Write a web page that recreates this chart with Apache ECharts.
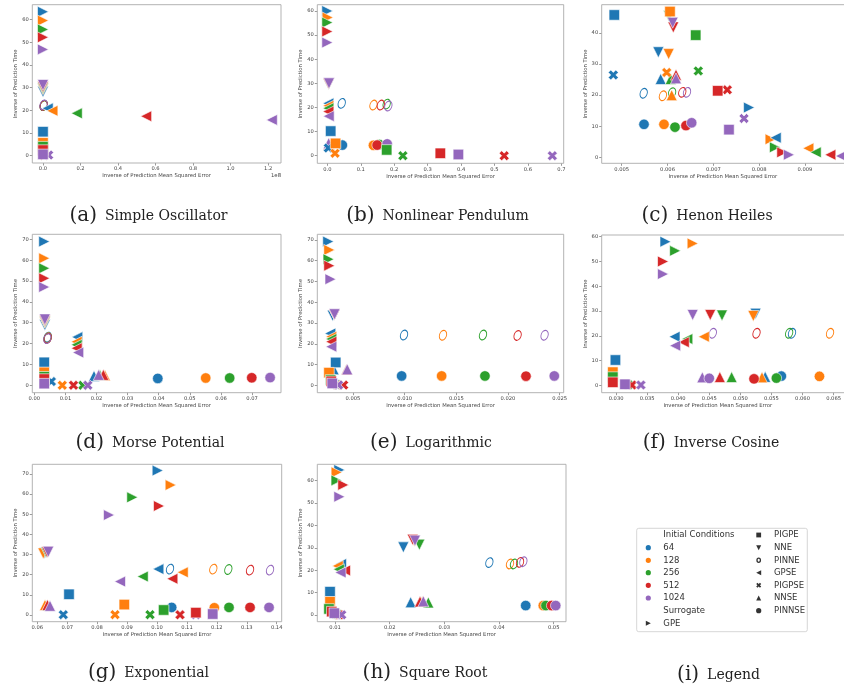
<!DOCTYPE html>
<html><head><meta charset="utf-8">
<script src="https://cdn.jsdelivr.net/npm/echarts@6/dist/echarts.min.js"></script>
<style>html,body{margin:0;padding:0;background:#fff}#c{width:844px;height:690px}</style>
</head><body><div id="c"></div>
<script>
// ---- categories ----
const icLabels = ['64','128','256','512','1024'];
const icColors = ['#1f77b4','#ff7f0e','#2ca02c','#d62728','#9467bd'];
const models = ['GPE','NNE','PINNE','GPSE','NNSE','PINNSE','PIGPSE','PIGPE'];
const legendModels = ['PIGPE','NNE','PINNE','GPSE','PIGPSE','NNSE','PINNSE'];

// ---- (a) Simple Oscillator (x in 1e8) ----
const a_GPE = [[0,63.5],[0,59.6],[0,55.7],[0,52.2],[0,46.9]];
const a_NNE = [[0,28.2],[0,29.3],[0,29.8],[0,30.4],[0,31.2]];
const a_PINNE = [[0.004,22.3],[0.004,22.2],[0.004,22.1],[0.004,22.2],[0.003,22.4]];
const a_GPSE = [[0.025,20.9],[0.05,19.8],[0.18,18.7],[0.55,17.4],[1.22,15.8]];
const a_NNSE = [[0.001,4.8],[0.001,4.6],[0.001,4.5],[0.002,4.4],[0.002,4.3]];
const a_PINNSE = [[0.001,4.2],[0.002,4.1],[0.002,4.1],[0.002,4.0],[0.003,4.0]];
const a_PIGPSE = [[0.002,0.4],[0.003,0.3],[0.004,0.2],[0.005,0.2],[0.03,0.3]];
const a_PIGPE = [[0,10.6],[0,5.7],[0,4.0],[0,2.5],[0,0.6]];
const a_xTicks = [0,0.2,0.4,0.6,0.8,1.0,1.2];
const a_yTicks = [0,10,20,30,40,50,60];

// ---- (b) Nonlinear Pendulum ----
const b_GPE = [[0,60],[0.001,57.3],[0,55.2],[0,51.5],[0,46.9]];
const b_NNE = [[0.004,29.6],[0.004,29.7],[0.004,29.8],[0.004,29.9],[0.005,30]];
const b_PINNE = [[0.043,21.7],[0.138,21.0],[0.1775,21.4],[0.16,21.0],[0.1825,20.6]];
const b_GPSE = [[0.003,21.7],[0.003,20.7],[0.003,19.7],[0.003,18.3],[0.004,16.4]];
const b_NNSE = [[0.004,4.6],[0.005,4.8],[0.005,4.9],[0.005,5.0],[0.004,5.2]];
const b_PINNSE = [[0.045,4.4],[0.138,4.3],[0.156,4.6],[0.149,4.4],[0.179,4.9]];
const b_PIGPSE = [[0.003,3.2],[0.023,1.0],[0.226,0],[0.529,0],[0.673,0]];
const b_PIGPE = [[0.010,10.2],[0.0246,5.1],[0.1775,2.4],[0.338,1.0],[0.392,0.5]];
const b_xTicks = [0,0.1,0.2,0.3,0.4,0.5,0.6,0.7];
const b_yTicks = [0,10,20,30,40,50,60];

// ---- (c) Henon Heiles ----
const c_GPE = [[0.00778,16],[0.00825,5.8],[0.008345,3.2],[0.008505,1.6],[0.00865,0.8]];
const c_NNE = [[0.0058,33.8],[0.006025,33.2],[0.00603,45.5],[0.006127,41.8],[0.006113,43.3]];
const c_PINNE = [[0.00548,20.6],[0.0059,19.8],[0.0061,20.8],[0.006322,20.9],[0.006425,20.9]];
const c_GPSE = [[0.00836,6.3],[0.009072,2.9],[0.009233,1.6],[0.009552,0.8],[0.009785,0.4]];
const c_NNSE = [[0.005851,25.2],[0.006091,20.0],[0.006069,25.2],[0.006185,26.6],[0.006185,25.4]];
const c_PINNSE = [[0.005487,10.6],[0.005923,10.6],[0.006163,9.7],[0.006403,10.2],[0.006527,11.1]];
const c_PIGPSE = [[0.004817,26.5],[0.005982,27.3],[0.006671,27.8],[0.007304,21.7],[0.007669,12.5]];
const c_PIGPE = [[0.004839,45.8],[0.006054,46.9],[0.006615,39.3],[0.007095,21.4],[0.007341,8.9]];
const c_xTicks = [0.005,0.006,0.007,0.008,0.009];
const c_yTicks = [0,10,20,30,40];

// ---- (d) Morse Potential ----
const d_GPE = [[0.0032,68.9],[0.0032,60.9],[0.0032,56.1],[0.0032,51.3],[0.0032,47.1]];
const d_NNE = [[0.0034,28.9],[0.0034,30],[0.0034,30.5],[0.0034,31],[0.0034,31.6]];
const d_PINNE = [[0.0043,23.1],[0.0043,22.8],[0.0043,22.6],[0.0043,22.5],[0.0042,22.4]];
const d_GPSE = [[0.0138,23.1],[0.0136,20.9],[0.0136,19.4],[0.0136,17.8],[0.0141,15.7]];
const d_NNSE = [[0.0192,4.5],[0.0227,4.8],[0.0211,4.9],[0.0222,5.0],[0.0207,5.0]];
const d_PINNSE = [[0.0397,3.3],[0.0551,3.5],[0.0628,3.5],[0.0699,3.6],[0.0758,3.7]];
const d_PIGPSE = [[0.0055,1.8],[0.009,0],[0.0156,0],[0.0126,0],[0.0172,0]];
const d_PIGPE = [[0.0032,11.0],[0.0032,6.2],[0.0032,4.1],[0.0032,3.0],[0.0032,0.8]];
const d_xTicks = [0,0.01,0.02,0.03,0.04,0.05,0.06,0.07];
const d_yTicks = [0,10,20,30,40,50,60,70];

// ---- (e) Logarithmic ----
const e_GPE = [[0.00261,69.2],[0.00271,65.2],[0.00264,60.7],[0.00271,57.6],[0.00283,51.1]];
const e_NNE = [[0.00304,33.5],[0.0032,34.1],[0.0032,34.0],[0.0032,34.0],[0.00322,34.2]];
const e_PINNE = [[0.00994,24.2],[0.01371,24.1],[0.01758,24.2],[0.02093,24.0],[0.02354,24.1]];
const e_GPSE = [[0.0028,25.0],[0.0029,23.4],[0.0029,22.3],[0.0029,21.0],[0.0029,18.6]];
const e_NNSE = [[0.00313,7.7],[0.0044,7.6],[0.0044,7.6],[0.0044,7.6],[0.00445,7.7]];
const e_PINNSE = [[0.00971,4.5],[0.01358,4.5],[0.01777,4.5],[0.02174,4.4],[0.02448,4.5]];
const e_PIGPSE = [[0.0034,0.4],[0.0035,0.3],[0.0036,0.2],[0.0041,0.1],[0.0036,0.2]];
const e_PIGPE = [[0.00333,11.0],[0.00268,6.1],[0.00284,2.6],[0.0029,1.9],[0.003,0.9]];
const e_xTicks = [0.005,0.010,0.015,0.020,0.025];
const e_yTicks = [0,10,20,30,40,50,60,70];

// ---- (f) Inverse Cosine ----
const f_GPE = [[0.03796,58.0],[0.04233,57.3],[0.03951,54.3],[0.03756,50.0],[0.03756,44.9]];
const f_NNE = [[0.05245,28.9],[0.05209,28.0],[0.04705,28.2],[0.04516,28.4],[0.04233,28.4]];
const f_PINNE = [[0.05831,21.0],[0.06443,21.0],[0.05785,21.0],[0.0526,21.0],[0.04557,21.0]];
const f_GPSE = [[0.0394,19.6],[0.04412,19.6],[0.04146,18.7],[0.04089,17.4],[0.0395,16.0]];
const f_NNSE = [[0.0540,3.4],[0.05348,3.2],[0.0486,3.3],[0.0467,3.3],[0.04388,3.2]];
const f_PINNSE = [[0.0566,3.7],[0.06273,3.6],[0.0558,2.9],[0.0522,2.6],[0.0450,2.8]];
const f_PIGPSE = [[0.0315,0.5],[0.0318,0.3],[0.032,0.2],[0.03256,0.1],[0.034,0.1]];
const f_PIGPE = [[0.0299,10.2],[0.02948,5.3],[0.02948,3.3],[0.02948,1.2],[0.03143,0.4]];
const f_xTicks = [0.030,0.035,0.040,0.045,0.050,0.055,0.060,0.065];
const f_yTicks = [0,10,20,30,40,50,60];

// ---- (g) Exponential ----
const g_GPE = [[0.10024,71.7],[0.10458,64.5],[0.09175,58.4],[0.10068,54.1],[0.08396,49.6]];
const g_NNE = [[0.0625,30.8],[0.062,30.6],[0.063,31.0],[0.0633,31.1],[0.06368,31.4]];
const g_PINNE = [[0.10435,22.8],[0.11882,22.8],[0.12384,22.6],[0.1311,22.3],[0.13778,22.3]];
const g_GPSE = [[0.10044,22.8],[0.1086,21.2],[0.09523,19.1],[0.10512,18.0],[0.08764,16.6]];
const g_NNSE = [[0.0632,4.8],[0.06257,5.0],[0.0635,4.8],[0.0634,5.0],[0.06424,4.6]];
const g_PINNSE = [[0.10491,3.8],[0.11916,3.6],[0.12407,3.8],[0.1311,3.8],[0.13745,3.8]];
const g_PIGPSE = [[0.06869,0.2],[0.08597,0.2],[0.09767,0.2],[0.1077,0.1],[0.113,0.1]];
const g_PIGPE = [[0.0706,10.3],[0.08908,5.2],[0.10222,2.5],[0.1130,1.2],[0.11862,0.5]];
const g_xTicks = [0.06,0.07,0.08,0.09,0.10,0.11,0.12,0.13,0.14];
const g_yTicks = [0,10,20,30,40,50,60,70];

// ---- (h) Square Root ----
const h_GPE = [[0.0108,64.8],[0.0103,63.7],[0.01028,60.1],[0.01152,58.1],[0.0108,52.8]];
const h_NNE = [[0.0225,30.2],[0.0245,33.0],[0.02543,31.4],[0.02421,33.6],[0.02463,33.2]];
const h_PINNE = [[0.03823,23.4],[0.04201,22.8],[0.04274,22.8],[0.04384,23.5],[0.04445,23.8]];
const h_GPSE = [[0.0111,22.8],[0.0105,21.9],[0.0107,20.4],[0.01183,19.9],[0.011,19.0]];
const h_NNSE = [[0.02384,5.7],[0.02597,6.0],[0.02707,5.6],[0.02555,6.0],[0.02616,6.1]];
const h_PINNSE = [[0.04488,4.2],[0.0481,4.2],[0.04859,4.2],[0.04963,4.2],[0.05037,4.2]];
const h_PIGPSE = [[0.0101,0.3],[0.0103,0.3],[0.0105,0.2],[0.0108,0.1],[0.01122,0.1]];
const h_PIGPE = [[0.00909,10.4],[0.00909,5.9],[0.0089,2.7],[0.0094,1.5],[0.00988,0.8]];
const h_xTicks = [0.01,0.02,0.03,0.04,0.05];
const h_yTicks = [0,10,20,30,40,50,60];

// ---- panel configuration (layout); fw = frame width (may run past the page edge) ----
const panels = [
  {d:{GPE:a_GPE,NNE:a_NNE,PINNE:a_PINNE,GPSE:a_GPSE,NNSE:a_NNSE,PINNSE:a_PINNSE,PIGPSE:a_PIGPSE,PIGPE:a_PIGPE},
   xr:[-0.057,1.269], yr:[-3.2,66.6], xt:a_xTicks, yt:a_yTicks, xd:1, g:[32.3,4.7,248.7,158.3], fw:248.7,
   cap:'(a)', name:'Simple Oscillator', cx:148.5, cy:216},
  {d:{GPE:b_GPE,NNE:b_NNE,PINNE:b_PINNE,GPSE:b_GPSE,NNSE:b_NNSE,PINNSE:b_PINNSE,PIGPSE:b_PIGPSE,PIGPE:b_PIGPE},
   xr:[-0.030,0.707], yr:[-3.15,62.6], xt:b_xTicks, yt:b_yTicks, xd:1, g:[317.3,4.7,246.4,158.6], fw:246.4,
   cap:'(b)', name:'Nonlinear Pendulum', cx:437.5, cy:216},
  {d:{GPE:c_GPE,NNE:c_NNE,PINNE:c_PINNE,GPSE:c_GPSE,NNSE:c_NNSE,PINNSE:c_PINNSE,PIGPSE:c_PIGPSE,PIGPE:c_PIGPE},
   xr:[0.004564,0.009851], yr:[-1.93,49.1], xt:c_xTicks, yt:c_yTicks, xd:3, g:[601.7,4.7,242.3,158.6], fw:247,
   cap:'(c)', name:'Henon Heiles', cx:707, cy:216},
  {d:{GPE:d_GPE,NNE:d_NNE,PINNE:d_PINNE,GPSE:d_GPSE,NNSE:d_NNSE,PINNSE:d_PINNSE,PIGPSE:d_PIGPSE,PIGPE:d_PIGPE},
   xr:[-0.00064,0.0793], yr:[-3.55,72.4], xt:d_xTicks, yt:d_yTicks, xd:2, g:[32.3,234.3,248.7,158.4], fw:248.7,
   cap:'(d)', name:'Morse Potential', cx:150, cy:443},
  {d:{GPE:e_GPE,NNE:e_NNE,PINNE:e_PINNE,GPSE:e_GPSE,NNSE:e_NNSE,PINNSE:e_PINNSE,PIGPSE:e_PIGPSE,PIGPE:e_PIGPE},
   xr:[0.00155,0.02539], yr:[-3.56,72.7], xt:e_xTicks, yt:e_yTicks, xd:3, g:[317.3,234.3,246.4,158.4], fw:246.4,
   cap:'(e)', name:'Logarithmic', cx:431, cy:443},
  {d:{GPE:f_GPE,NNE:f_NNE,PINNE:f_PINNE,GPSE:f_GPSE,NNSE:f_NNSE,PINNSE:f_PINNSE,PIGPSE:f_PIGPSE,PIGPE:f_PIGPE},
   xr:[0.02769,0.065045], yr:[-3.0,60.7], xt:f_xTicks, yt:f_yTicks, xd:3, g:[601.7,235,242.3,157.7], fw:247,
   cap:'(f)', name:'Inverse Cosine', cx:711, cy:443},
  {d:{GPE:g_GPE,NNE:g_NNE,PINNE:g_PINNE,GPSE:g_GPSE,NNSE:g_NNSE,PINNSE:g_PINNSE,PIGPSE:g_PIGPSE,PIGPE:g_PIGPE},
   xr:[0.05833,0.14168], yr:[-3.3,74.8], xt:g_xTicks, yt:g_yTicks, xd:2, g:[32.3,464.3,249.4,157.4], fw:249.4,
   cap:'(g)', name:'Exponential', cx:148.5, cy:673},
  {d:{GPE:h_GPE,NNE:h_NNE,PINNE:h_PINNE,GPSE:h_GPSE,NNSE:h_NNSE,PINNSE:h_PINNSE,PIGPSE:h_PIGPSE,PIGPE:h_PIGPE},
   xr:[0.00676,0.05225], yr:[-3.0,67.3], xt:h_xTicks, yt:h_yTicks, xd:2, g:[317.3,464.3,248.7,157.4], fw:248.7,
   cap:'(h)', name:'Square Root', cx:425, cy:673}
];

const SYM = {
  GPE:   {symbol:'path://M0,0L10,5L0,10Z', size:11},
  NNE:   {symbol:'path://M0,0L10,0L5,10Z', size:11},
  PINNE: {symbol:'circle', size:[7,10], rotate:-20, ring:true},
  GPSE:  {symbol:'path://M10,0L0,5L10,10Z', size:11},
  NNSE:  {symbol:'path://M5,0L10,10L0,10Z', size:11},
  PINNSE:{symbol:'circle', size:10.5},
  PIGPSE:{symbol:'path://M0,2.5L2.5,0L5,2.5L7.5,0L10,2.5L7.5,5L10,7.5L7.5,10L5,7.5L2.5,10L0,7.5L2.5,5Z', size:10},
  PIGPE: {symbol:'rect', size:10.5}
};

const FONT = 'DejaVu Sans';
const TXT = '#444';
const grid = [], xAxis = [], yAxis = [], series = [], graphic = [];

panels.forEach((p, i) => {
  grid.push({left:p.g[0], top:p.g[1], width:p.g[2], height:p.g[3], show:false});
  graphic.push({type:'rect', z:100, silent:true, shape:{x:p.g[0], y:p.g[1], width:p.fw, height:p.g[3]},
    style:{fill:'none', stroke:'#aaa', lineWidth:0.9}});
  xAxis.push({type:'value', gridIndex:i, min:p.xr[0], max:p.xr[1],
    axisLine:{show:false,onZero:false}, splitLine:{show:false},
    axisTick:{show:true, length:2.5, lineStyle:{color:'#555',width:0.6}, customValues:p.xt},
    axisLabel:{customValues:p.xt, formatter:v=>Number(v).toFixed(p.xd), fontSize:5.2, color:TXT, margin:3.5, fontFamily:FONT},
    name:'Inverse of Prediction Mean Squared Error', nameLocation:'middle', nameGap:10.5,
    nameTextStyle:{fontSize:5.3, color:TXT, fontFamily:FONT}});
  yAxis.push({type:'value', gridIndex:i, min:p.yr[0], max:p.yr[1],
    axisLine:{show:false,onZero:false}, splitLine:{show:false},
    axisTick:{show:true, length:2.5, lineStyle:{color:'#555',width:0.6}, customValues:p.yt},
    axisLabel:{customValues:p.yt, formatter:v=>String(Math.round(v)), fontSize:5.2, color:TXT, margin:3.5, fontFamily:FONT},
    name:'Inverse of Prediction Time', nameLocation:'middle', nameGap:13,
    nameTextStyle:{fontSize:5.3, color:TXT, fontFamily:FONT}});
  models.forEach(m => {
    const s = SYM[m];
    series.push({type:'scatter', xAxisIndex:i, yAxisIndex:i, name:m, silent:true, animation:false,
      symbol:s.symbol, symbolSize:s.size, symbolRotate:s.rotate||0,
      data:p.d[m].map((v,k)=>({value:v, itemStyle: s.ring
        ? {color:'rgba(0,0,0,0)', borderColor:icColors[k], borderWidth:1, opacity:1}
        : {color:icColors[k], borderColor:'#fff', borderWidth:0.6, opacity:1}}))});
  });
  graphic.push({type:'text', x:p.cx, y:p.cy, style:{
    text:'{p|'+p.cap+'}{t|'+p.name+'}', align:'center', verticalAlign:'middle',
    rich:{p:{fontFamily:'DejaVu Serif', fontSize:20, fill:'#222', padding:[0,8,0,0]},
          t:{fontFamily:'DejaVu Serif', fontSize:14, fill:'#222'}}}});
});
graphic.push({type:'text', x:276, y:176, style:{text:'1e8', fontFamily:FONT, fontSize:5.3, fill:TXT, align:'center', verticalAlign:'middle'}});
graphic.push({type:'text', x:718.5, y:675, style:{
  text:'{p|(i)}{t|Legend}', align:'center', verticalAlign:'middle',
  rich:{p:{fontFamily:'DejaVu Serif', fontSize:20, fill:'#222', padding:[0,8,0,0]},
        t:{fontFamily:'DejaVu Serif', fontSize:14, fill:'#222'}}}});

// ---- legend panel (i) ----
const LX = 636.7, LY = 528.3;
graphic.push({type:'rect', shape:{x:LX, y:LY, width:170.6, height:103.4, r:2},
  style:{fill:'#fff', stroke:'#ccc', lineWidth:0.8}});
const rowY = [535, 547.7, 560.3, 572.7, 585.3, 598, 610.7, 623.3];
const col1 = ['Initial Conditions'].concat(icLabels, ['Surrogate','GPE']);
const legTxt = (t, x, y) => ({type:'text', x:x, y:y, style:{text:t, fontFamily:FONT, fontSize:8.5, fill:'#333', align:'left', verticalAlign:'middle'}});
col1.forEach((t,k)=>graphic.push(legTxt(t, 663.3, rowY[k])));
legendModels.forEach((t,k)=>graphic.push(legTxt(t, 774, rowY[k])));
icColors.forEach((c,k)=>graphic.push({type:'circle', shape:{cx:648.3, cy:rowY[k+1], r:2.6}, style:{fill:c}}));
const MK = '#333';
function tri(cx, cy, dir, r) {
  const pts = {right:[[cx-r,cy-r],[cx+r,cy],[cx-r,cy+r]], left:[[cx+r,cy-r],[cx-r,cy],[cx+r,cy+r]],
               down:[[cx-r,cy-r],[cx+r,cy-r],[cx,cy+r]], up:[[cx,cy-r],[cx+r,cy+r],[cx-r,cy+r]]}[dir];
  return {type:'polygon', shape:{points:pts}, style:{fill:MK}};
}
graphic.push(tri(648.3, rowY[7], 'right', 2.5));
const c2 = 758.7;
graphic.push({type:'rect', shape:{x:c2-2.4, y:rowY[0]-2.4, width:4.8, height:4.8}, style:{fill:MK}});
graphic.push(tri(c2, rowY[1], 'down', 2.5));
graphic.push({type:'ellipse', shape:{cx:c2, cy:rowY[2], rx:1.7, ry:2.1}, style:{fill:'none', stroke:MK, lineWidth:1.3}});
graphic.push(tri(c2, rowY[3], 'left', 2.5));
(function(){ const cx=c2, cy=rowY[4], s=0.5;
  const raw=[[0,2.5],[2.5,0],[5,2.5],[7.5,0],[10,2.5],[7.5,5],[10,7.5],[7.5,10],[5,7.5],[2.5,10],[0,7.5],[2.5,5]];
  graphic.push({type:'polygon', shape:{points:raw.map(q=>[cx+(q[0]-5)*s, cy+(q[1]-5)*s])}, style:{fill:MK}});
})();
graphic.push(tri(c2, rowY[5], 'up', 2.5));
graphic.push({type:'circle', shape:{cx:c2, cy:rowY[6], r:2.6}, style:{fill:MK}});

const chart = echarts.init(document.getElementById('c'), null, {renderer:'canvas'});
chart.setOption({backgroundColor:'#fff', animation:false, grid, xAxis, yAxis, series, graphic});
</script></body></html>
